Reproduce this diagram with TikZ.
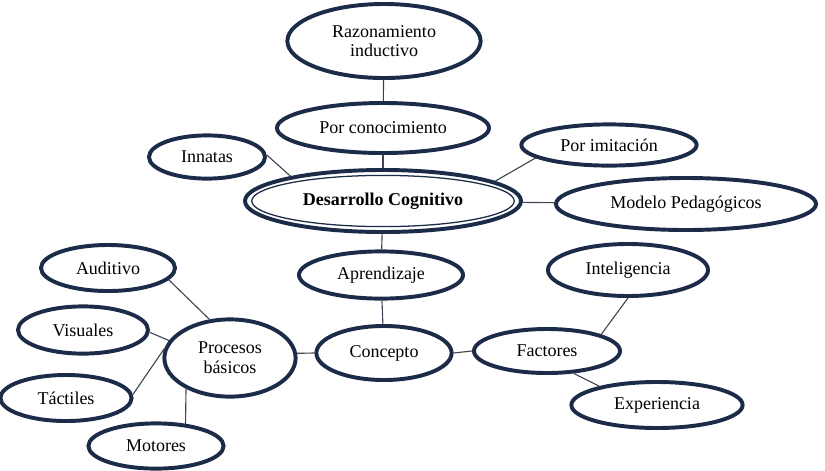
\documentclass[tikz,border=0pt]{standalone}
\usepackage{fontspec}
\setmainfont{Liberation Serif}
\usepackage{tikz}
\usetikzlibrary{shapes.geometric}
\definecolor{bubblecolor}{HTML}{1B2B48}
\definecolor{linkcolor}{HTML}{3E4656}

\begin{document}
\begin{tikzpicture}[x=0.025cm,y=-0.025cm,
 bubble/.style={ellipse,draw=bubblecolor,line width=2.8pt,fill=white,
                inner sep=0pt,align=center,
                font=\fontsize{12.8pt}{14pt}\selectfont},
 link/.style={draw=linkcolor,line width=0.8pt}]
 \useasboundingbox (0,0) rectangle (825,470);
 \node[bubble,minimum width=4.83cm,minimum height=1.85cm] (razo) at (384,41)
   {Razonamiento\\inductivo};
 \node[bubble,minimum width=5.3cm,minimum height=1.25cm] (poco) at (383,128)
   {Por conocimiento};
 \node[bubble,minimum width=2.9cm,minimum height=1.08cm] (inna) at (207,157)
   {Innatas};
 \node[bubble,minimum width=4.38cm,minimum height=1.03cm] (poim) at (609,145)
   {Por imitación};
 \node[bubble,minimum width=6.9cm,minimum height=1.55cm] (desa) at (383,201)
   {\textbf{Desarrollo Cognitivo}};
 \draw[bubblecolor,line width=0.9pt] (desa.center) ellipse [x radius=3.28cm,y radius=0.64cm];
 \node[bubble,minimum width=6.5cm,minimum height=1.3cm] (mode) at (686,204)
   {Modelo Pedagógicos};
 \node[bubble,minimum width=4.1cm,minimum height=1.18cm] (apre) at (381,275)
   {Aprendizaje};
 \node[bubble,minimum width=4.0cm,minimum height=1.3cm] (inte) at (628,270)
   {Inteligencia};
 \node[bubble,minimum width=3.65cm,minimum height=1.1cm] (fact) at (547,351)
   {Factores};
 \node[bubble,minimum width=4.28cm,minimum height=1.15cm] (expe) at (657,405)
   {Experiencia};
 \node[bubble,minimum width=3.38cm,minimum height=1.35cm] (conc) at (384,353)
   {Concepto};
 \node[bubble,minimum width=3.28cm,minimum height=1.93cm] (proc) at (230,358)
   {Procesos\\básicos};
 \node[bubble,minimum width=3.35cm,minimum height=1.15cm] (audi) at (108,268)
   {Auditivo};
 \node[bubble,minimum width=3.25cm,minimum height=1.18cm] (visu) at (83,330)
   {Visuales};
 \node[bubble,minimum width=3.28cm,minimum height=1.15cm] (tact) at (66,398)
   {Táctiles};
 \node[bubble,minimum width=3.38cm,minimum height=1.13cm] (moto) at (156,446)
   {Motores};
 \draw[link] (razo) -- (poco);
 \draw[link] (poco) -- (desa);
 \draw[link] (inna.2) -- (desa.165);
 \draw[link] (poim.190) -- (desa.10);
 \draw[link] (desa) -- (mode);
 \draw[link] (desa) -- (apre);
 \draw[link] (apre) -- (conc);
 \draw[link] (proc.4) -- (conc.west);
 \draw[link] (conc.east) -- (fact.west);
 \draw[link] (inte.south) -- (fact.17);
 \draw[link] (fact.-40) -- (expe.162);
 \draw[link] (audi.-11) -- (proc.118);
 \draw[link] (visu.-2) -- (proc.164);
 \draw[link] (tact.3) -- (proc.172);
 \draw[link] (moto.37) -- (proc.215);
\end{tikzpicture}
\end{document}
